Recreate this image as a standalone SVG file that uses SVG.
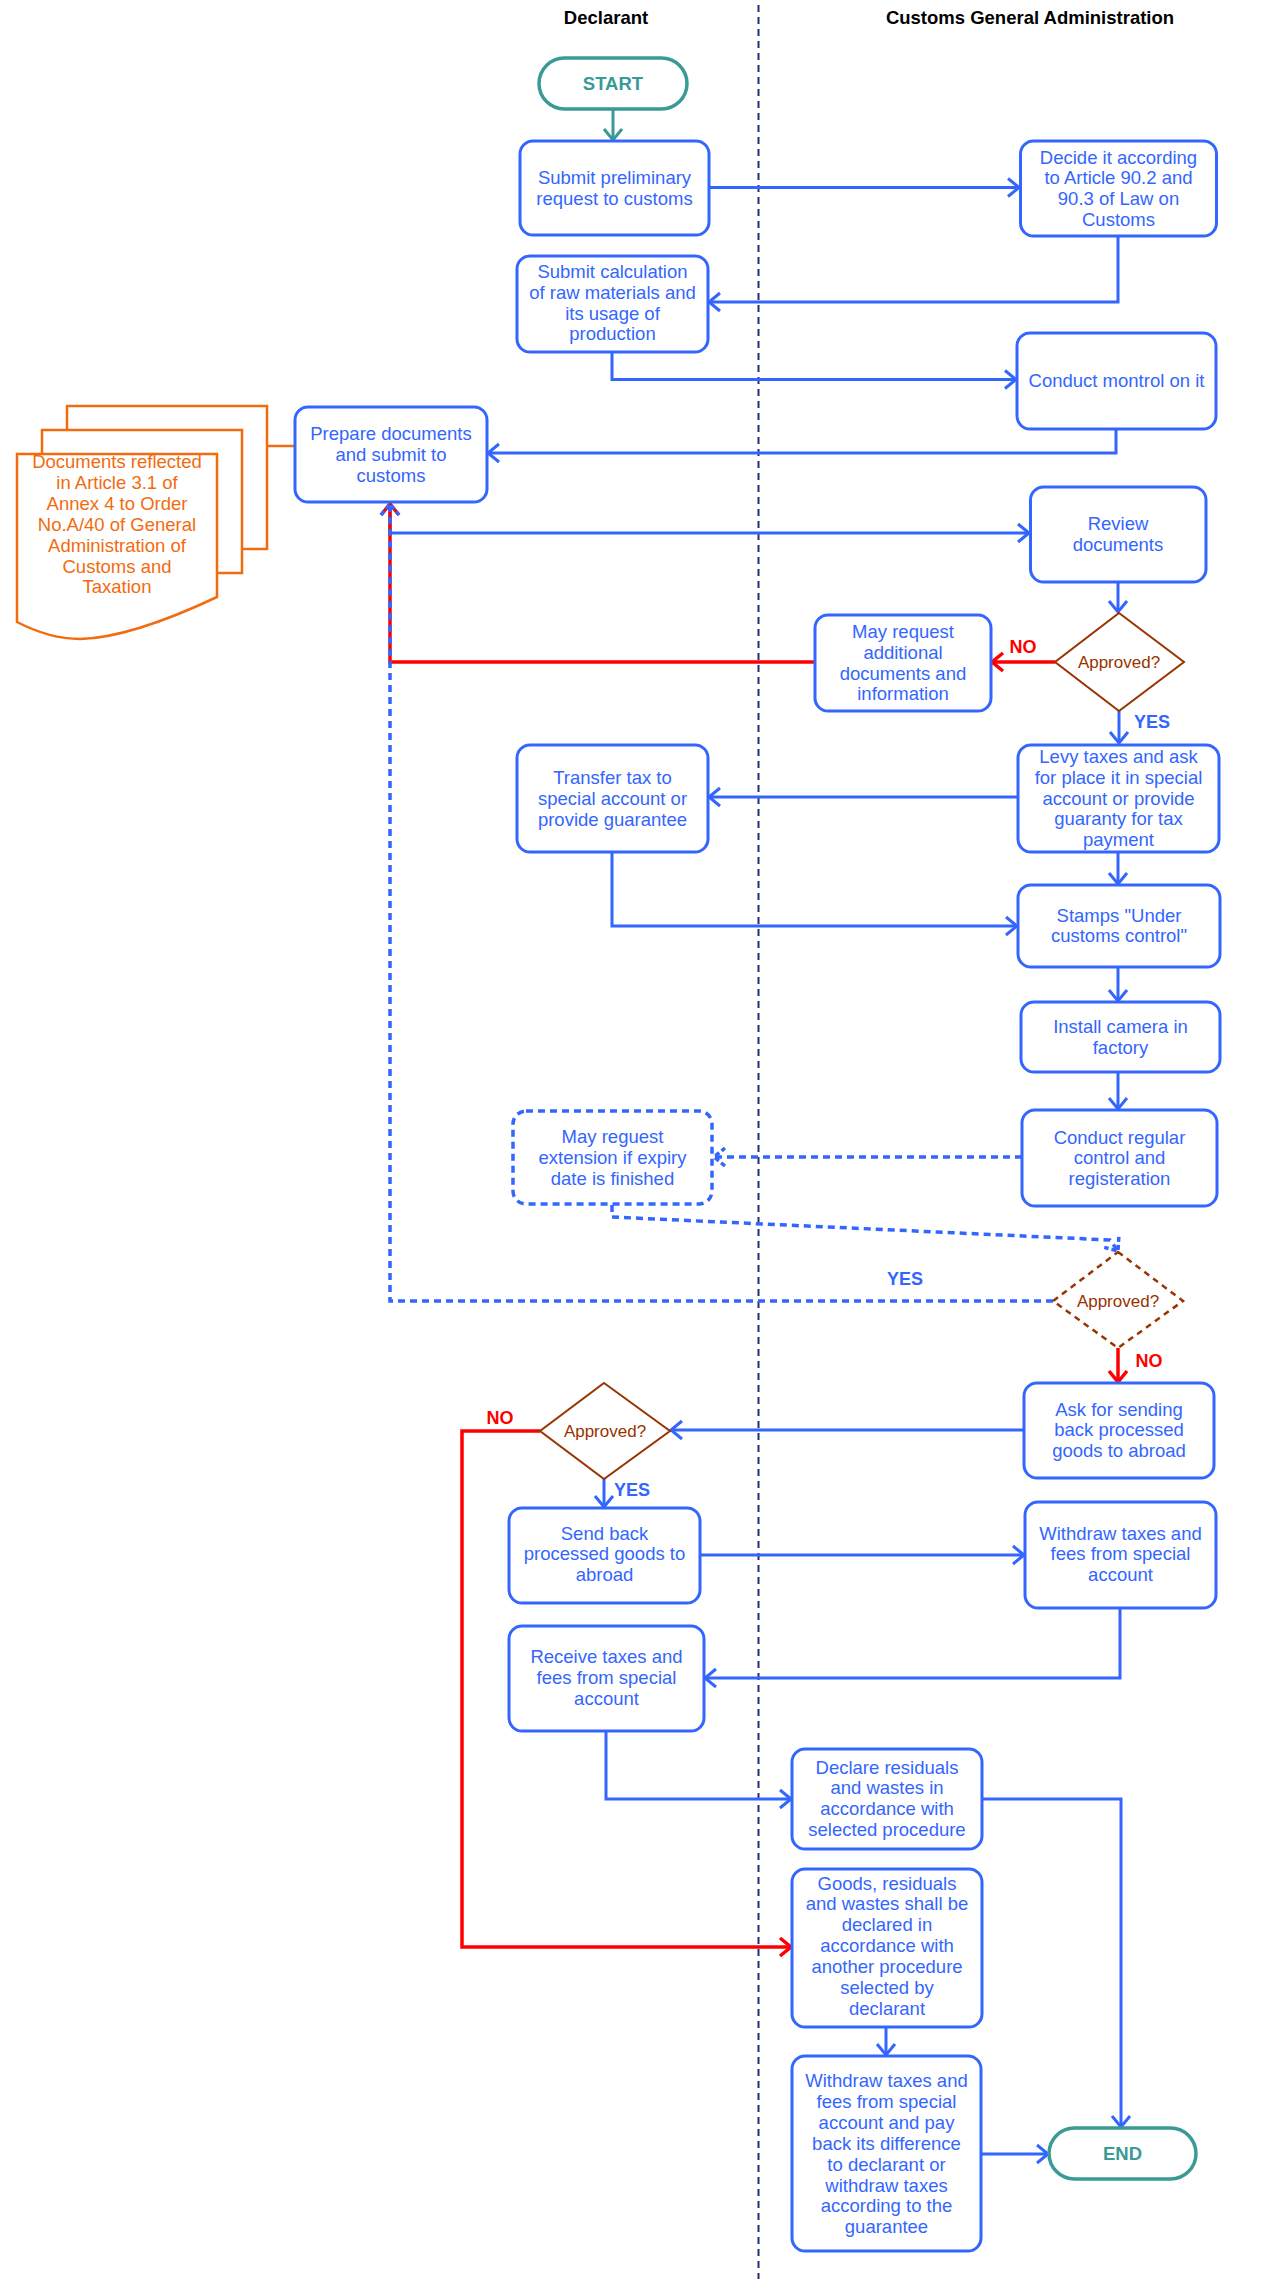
<svg xmlns="http://www.w3.org/2000/svg" width="1270" height="2279" viewBox="0 0 1270 2279">
<defs>
<style>
.box{fill:#fff;stroke:#3366FF;stroke-width:3}
.dbox{fill:#fff;stroke:#3366FF;stroke-width:3.5;stroke-dasharray:7 5}
.term{fill:#fff;stroke:#3A9A96;stroke-width:3.5}
.t{font-family:"Liberation Sans",Arial,sans-serif;font-size:18.5px;fill:#3366FF;text-anchor:middle}
.hd{font-weight:bold;fill:#000}
.tt{font-weight:bold;fill:#3A9A96}
.ot{fill:#F26B0F}
.dt{fill:#993300;font-size:17px}
.lb{font-weight:bold;font-size:18px}
.lr{fill:#FF0000}
.c{fill:none;stroke:#3366FF;stroke-width:3}
.cr{stroke:#FF0000;stroke-width:3.5}
.cd{stroke-dasharray:7 5;stroke-width:3.5}
.ct{stroke:#3A9A96}
.dia{fill:#fff;stroke:#993300;stroke-width:2}
.diad{fill:#fff;stroke:#993300;stroke-width:2.5;stroke-dasharray:6 5}
.doc{fill:#fff;stroke:#F26B0F;stroke-width:2.5}
</style>
<marker id="ab" markerUnits="userSpaceOnUse" markerWidth="16" markerHeight="22" refX="12" refY="10" orient="auto" overflow="visible"><path d="M1,1 L12,10 L1,19" fill="none" stroke="#3366FF" stroke-width="3"/></marker>
<marker id="ar" markerUnits="userSpaceOnUse" markerWidth="16" markerHeight="22" refX="12" refY="10" orient="auto" overflow="visible"><path d="M1,1 L12,10 L1,19" fill="none" stroke="#FF0000" stroke-width="3.5"/></marker>
<marker id="at" markerUnits="userSpaceOnUse" markerWidth="16" markerHeight="22" refX="12" refY="10" orient="auto" overflow="visible"><path d="M1,1 L12,10 L1,19" fill="none" stroke="#3A9A96" stroke-width="3"/></marker>
<marker id="ad" markerUnits="userSpaceOnUse" markerWidth="16" markerHeight="22" refX="12" refY="10" orient="auto" overflow="visible"><path d="M1,1 L12,10 L1,19" fill="none" stroke="#3366FF" stroke-width="3.5" stroke-dasharray="5 3"/></marker>
</defs>
<rect width="1270" height="2279" fill="#fff"/>

<g id="lanes">
<line x1="758.5" y1="5" x2="758.5" y2="2279" stroke="#1F2F78" stroke-width="2" stroke-dasharray="7 5"/>
<text class="t hd" x="606" y="24">Declarant</text>
<text class="t hd" x="1030" y="24">Customs General Administration</text>
</g>

<g id="connectors">
<path class="c ct" d="M613,109 V140" marker-end="url(#at)"/>
<path class="c" d="M709,187.5 H1019" marker-end="url(#ab)"/>
<path class="c" d="M1118,236 V302 H709" marker-end="url(#ab)"/>
<path class="c" d="M612,352 V379.5 H1016" marker-end="url(#ab)"/>
<path class="c" d="M1116,429 V453 H488" marker-end="url(#ab)"/>
<path d="M267,446 H295" fill="none" stroke="#F26B0F" stroke-width="2.5"/>
<path class="c" d="M390,503 V533 H1029" marker-end="url(#ab)"/>
<path class="c cr" d="M815,662 H390 V504" marker-end="url(#ar)"/>
<path class="c" d="M1118,582 V612" marker-end="url(#ab)"/>
<path class="c cr" d="M1055,662 H992" marker-end="url(#ar)"/>
<path class="c" d="M1119,711 V743" marker-end="url(#ab)"/>
<path class="c" d="M1018,797 H709" marker-end="url(#ab)"/>
<path class="c" d="M1118,852 V884" marker-end="url(#ab)"/>
<path class="c" d="M612,852 V926 H1017" marker-end="url(#ab)"/>
<path class="c" d="M1118,967 V1001" marker-end="url(#ab)"/>
<path class="c" d="M1118,1072 V1109" marker-end="url(#ab)"/>
<path class="c cd" d="M1022,1157 H714" marker-end="url(#ad)"/>
<path class="c cd" d="M612,1205 V1217 L1110,1240 L1118,1251" marker-end="url(#ad)"/>
<path class="c cd" d="M1053,1301 H390 V504" marker-end="url(#ad)"/>
<path class="c cr" d="M1118,1348 V1382" marker-end="url(#ar)"/>
<path class="c" d="M1024,1430 H671" marker-end="url(#ab)"/>
<path class="c cr" d="M540,1431 H462 V1947 H791" marker-end="url(#ar)"/>
<path class="c" d="M604,1479 V1507" marker-end="url(#ab)"/>
<path class="c" d="M700,1555 H1024" marker-end="url(#ab)"/>
<path class="c" d="M1120,1608 V1678 H705" marker-end="url(#ab)"/>
<path class="c" d="M606,1731 V1799 H791" marker-end="url(#ab)"/>
<path class="c" d="M982,1799 H1121 V2127" marker-end="url(#ab)"/>
<path class="c" d="M886,2027 V2055" marker-end="url(#ab)"/>
<path class="c" d="M981,2154 H1048" marker-end="url(#ab)"/>
<text class="t lb lr" x="1023" y="653">NO</text>
<text class="t lb" x="1152" y="728">YES</text>
<text class="t lb" x="905" y="1285">YES</text>
<text class="t lb lr" x="1149" y="1367">NO</text>
<text class="t lb lr" x="500" y="1424">NO</text>
<text class="t lb" x="632" y="1496">YES</text>
</g>

<g id="start">
<rect class="term" x="539" y="58" width="148" height="51" rx="25.5"/>
<text class="t tt" x="613" y="90">START</text>
</g>

<g id="submit-preliminary">
<rect class="box" x="520" y="141" width="189" height="94" rx="13"/>
<text class="t"><tspan x="614.5" y="184">Submit preliminary</tspan><tspan x="614.5" y="205">request to customs</tspan></text>
</g>

<g id="decide">
<rect class="box" x="1020.5" y="141" width="196" height="95" rx="13"/>
<text class="t"><tspan x="1118.5" y="163.5">Decide it according</tspan><tspan x="1118.5" y="184.3">to Article 90.2 and</tspan><tspan x="1118.5" y="205.1">90.3 of Law on</tspan><tspan x="1118.5" y="225.9">Customs</tspan></text>
</g>

<g id="submit-calculation">
<rect class="box" x="517" y="256" width="191" height="96" rx="13"/>
<text class="t"><tspan x="612.5" y="278">Submit calculation</tspan><tspan x="612.5" y="298.8">of raw materials and</tspan><tspan x="612.5" y="319.6">its usage of</tspan><tspan x="612.5" y="340.4">production</tspan></text>
</g>

<g id="conduct-control">
<rect class="box" x="1017" y="333" width="199" height="96" rx="13"/>
<text class="t" x="1116.5" y="387">Conduct montrol on it</text>
</g>

<g id="documents">
<rect class="doc" x="67" y="406" width="200" height="143"/>
<rect class="doc" x="42" y="430" width="200" height="143"/>
<path class="doc" d="M17,454 H217 V597 Q130,638 80,639 Q50,639 17,622 Z"/>
<text class="t ot"><tspan x="117" y="468">Documents reflected</tspan><tspan x="117" y="488.9">in Article 3.1 of</tspan><tspan x="117" y="509.8">Annex 4 to Order</tspan><tspan x="117" y="530.7">No.A/40 of General</tspan><tspan x="117" y="551.6">Administration of</tspan><tspan x="117" y="572.5">Customs and</tspan><tspan x="117" y="593.4">Taxation</tspan></text>
</g>

<g id="prepare-documents">
<rect class="box" x="295" y="407" width="192" height="95" rx="13"/>
<text class="t"><tspan x="391" y="440">Prepare documents</tspan><tspan x="391" y="460.8">and submit to</tspan><tspan x="391" y="481.6">customs</tspan></text>
</g>

<g id="review">
<rect class="box" x="1030.5" y="487" width="175.5" height="95" rx="13"/>
<text class="t"><tspan x="1118" y="530">Review</tspan><tspan x="1118" y="550.8">documents</tspan></text>
</g>

<g id="approved-1">
<path class="dia" d="M1119,613 L1184,662 L1119,711 L1055,662 Z"/>
<text class="t dt" x="1119" y="668">Approved?</text>
</g>

<g id="may-request">
<rect class="box" x="815" y="615" width="176" height="96" rx="13"/>
<text class="t"><tspan x="903" y="638">May request</tspan><tspan x="903" y="658.8">additional</tspan><tspan x="903" y="679.6">documents and</tspan><tspan x="903" y="700.4">information</tspan></text>
</g>

<g id="levy">
<rect class="box" x="1018" y="745" width="201" height="107" rx="13"/>
<text class="t"><tspan x="1118.5" y="763">Levy taxes and ask</tspan><tspan x="1118.5" y="783.8">for place it in special</tspan><tspan x="1118.5" y="804.6">account or provide</tspan><tspan x="1118.5" y="825.4">guaranty for tax</tspan><tspan x="1118.5" y="846.2">payment</tspan></text>
</g>

<g id="transfer">
<rect class="box" x="517" y="745" width="191" height="107" rx="13"/>
<text class="t"><tspan x="612.5" y="784.3">Transfer tax to</tspan><tspan x="612.5" y="805.1">special account or</tspan><tspan x="612.5" y="825.9">provide guarantee</tspan></text>
</g>

<g id="stamps">
<rect class="box" x="1018" y="885" width="202" height="82" rx="13"/>
<text class="t"><tspan x="1119" y="921.5">Stamps "Under</tspan><tspan x="1119" y="942.3">customs control"</tspan></text>
</g>

<g id="install">
<rect class="box" x="1021" y="1002" width="199" height="70" rx="13"/>
<text class="t"><tspan x="1120.5" y="1033">Install camera in</tspan><tspan x="1120.5" y="1053.8">factory</tspan></text>
</g>

<g id="conduct-regular">
<rect class="box" x="1022" y="1110" width="195" height="96" rx="13"/>
<text class="t"><tspan x="1119.5" y="1143.5">Conduct regular</tspan><tspan x="1119.5" y="1164.3">control and</tspan><tspan x="1119.5" y="1185.1">registeration</tspan></text>
</g>

<g id="may-request-extension">
<rect class="dbox" x="513" y="1111" width="199" height="93" rx="13"/>
<text class="t"><tspan x="612.5" y="1143">May reguest</tspan><tspan x="612.5" y="1163.8">extension if expiry</tspan><tspan x="612.5" y="1184.6">date is finished</tspan></text>
</g>

<g id="approved-2">
<path class="diad" d="M1118,1252 L1183,1301 L1118,1348 L1053,1301 Z"/>
<text class="t dt" x="1118" y="1307">Approved?</text>
</g>

<g id="ask-sending-back">
<rect class="box" x="1024" y="1383" width="190" height="95" rx="13"/>
<text class="t"><tspan x="1119" y="1415.5">Ask for sending</tspan><tspan x="1119" y="1436.3">back processed</tspan><tspan x="1119" y="1457.1">goods to abroad</tspan></text>
</g>

<g id="approved-3">
<path class="dia" d="M604,1383 L670,1431 L604,1479 L540,1431 Z"/>
<text class="t dt" x="605" y="1437">Approved?</text>
</g>

<g id="send-back">
<rect class="box" x="509" y="1508" width="191" height="95" rx="13"/>
<text class="t"><tspan x="604.5" y="1539.5">Send back</tspan><tspan x="604.5" y="1560.3">processed goods to</tspan><tspan x="604.5" y="1581.1">abroad</tspan></text>
</g>

<g id="withdraw-taxes-1">
<rect class="box" x="1025" y="1502" width="191" height="106" rx="13"/>
<text class="t"><tspan x="1120.5" y="1539.5">Withdraw taxes and</tspan><tspan x="1120.5" y="1560.3">fees from special</tspan><tspan x="1120.5" y="1581.1">account</tspan></text>
</g>

<g id="receive-taxes">
<rect class="box" x="509" y="1626" width="195" height="105" rx="13"/>
<text class="t"><tspan x="606.5" y="1663">Receive taxes and</tspan><tspan x="606.5" y="1683.8">fees from special</tspan><tspan x="606.5" y="1704.6">account</tspan></text>
</g>

<g id="declare-residuals">
<rect class="box" x="792" y="1749" width="190" height="100" rx="13"/>
<text class="t"><tspan x="887" y="1773.5">Declare residuals</tspan><tspan x="887" y="1794.4">and wastes in</tspan><tspan x="887" y="1815.3">accordance with</tspan><tspan x="887" y="1836.2">selected procedure</tspan></text>
</g>

<g id="goods-declared">
<rect class="box" x="792" y="1869" width="190" height="158" rx="13"/>
<text class="t"><tspan x="887" y="1889.5">Goods, residuals</tspan><tspan x="887" y="1910.4">and wastes shall be</tspan><tspan x="887" y="1931.3">declared in</tspan><tspan x="887" y="1952.2">accordance with</tspan><tspan x="887" y="1973.1">another procedure</tspan><tspan x="887" y="1994">selected by</tspan><tspan x="887" y="2014.9">declarant</tspan></text>
</g>

<g id="withdraw-taxes-2">
<rect class="box" x="792" y="2056" width="189" height="195" rx="13"/>
<text class="t"><tspan x="886.5" y="2087">Withdraw taxes and</tspan><tspan x="886.5" y="2107.9">fees from special</tspan><tspan x="886.5" y="2128.8">account and pay</tspan><tspan x="886.5" y="2149.7">back its difference</tspan><tspan x="886.5" y="2170.6">to declarant or</tspan><tspan x="886.5" y="2191.5">withdraw taxes</tspan><tspan x="886.5" y="2212.4">according to the</tspan><tspan x="886.5" y="2233.3">guarantee</tspan></text>
</g>

<g id="end">
<rect class="term" x="1049" y="2128" width="147" height="51" rx="25.5"/>
<text class="t tt" x="1122.5" y="2160">END</text>
</g>
</svg>
